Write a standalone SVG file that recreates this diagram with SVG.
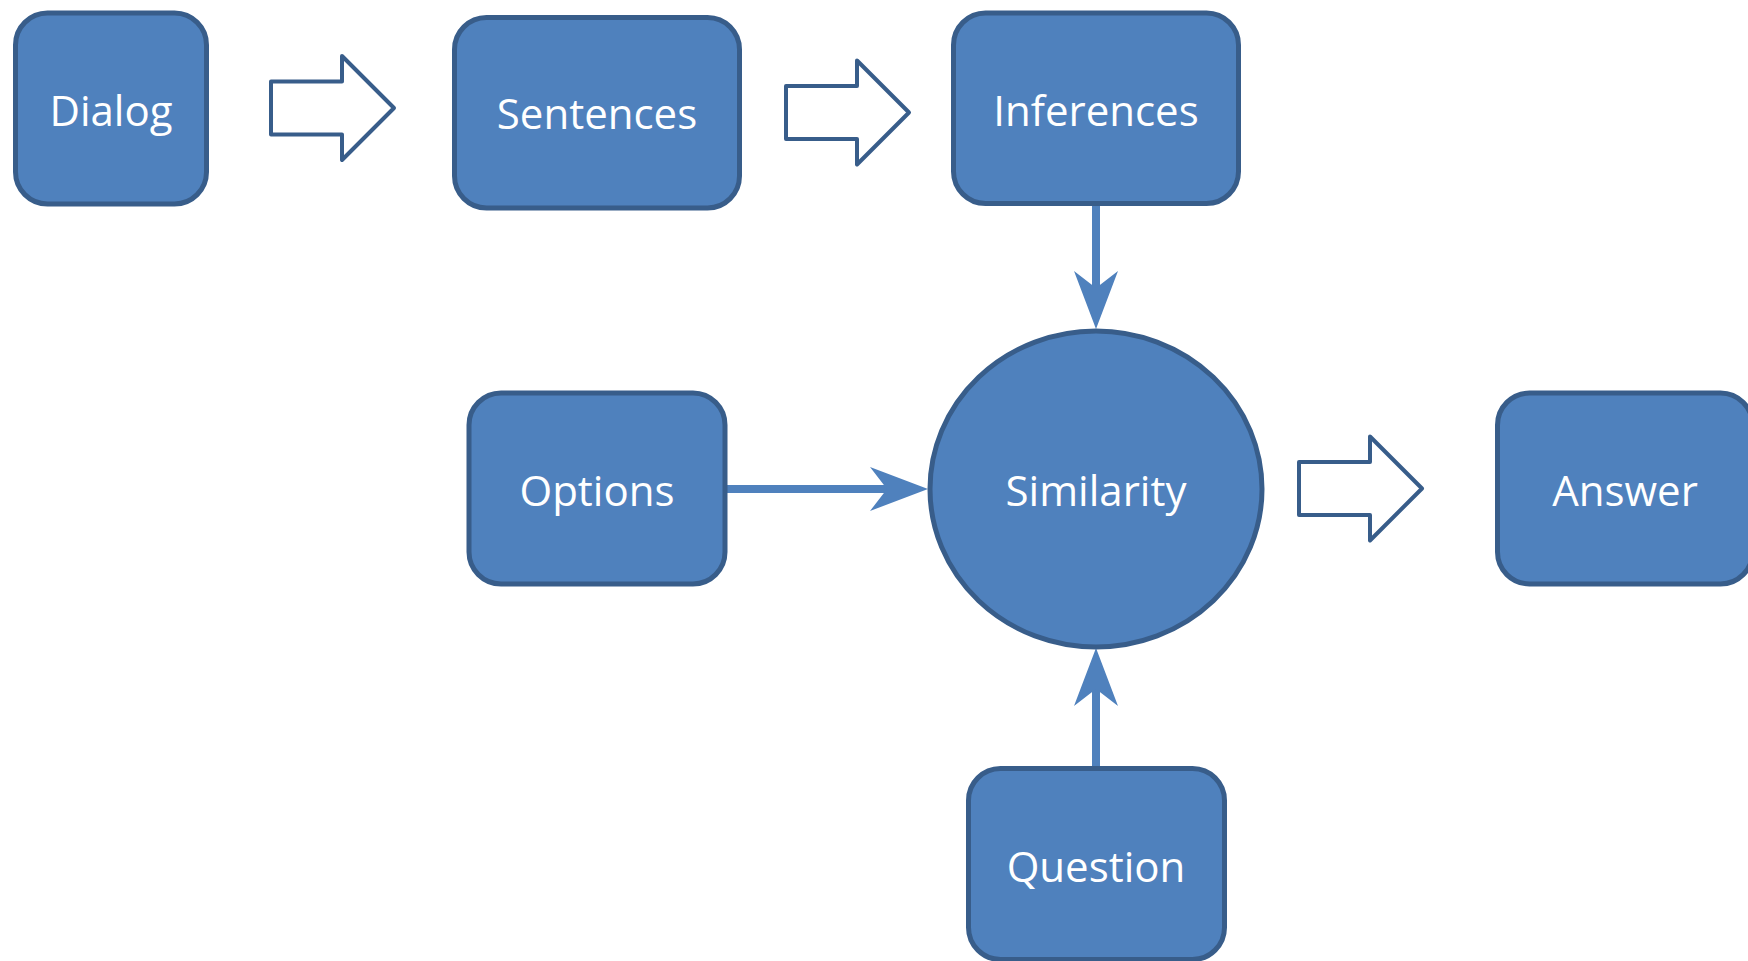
<svg xmlns="http://www.w3.org/2000/svg" width="1748" height="961" viewBox="0 0 1748 961">
<style>
.box{fill:#4f81bd;stroke:#385d8a;stroke-width:5}
.lbl{fill:#ffffff;font-family:"Open Sans","Liberation Sans",sans-serif;font-size:42px;text-anchor:middle}
.blk{fill:#ffffff;stroke:#385d8a;stroke-width:4;stroke-linejoin:round}
.con{stroke:#4f81bd;stroke-width:8;fill:none;marker-end:url(#head)}
</style>
<defs>
<marker id="head" markerUnits="userSpaceOnUse" viewBox="0 0 58 44" markerWidth="58" markerHeight="44" refX="38" refY="22" orient="auto">
<path d="M0,0 L58,22 L0,44 L17,22 Z" fill="#4f81bd"/>
</marker>
</defs>
<rect width="1748" height="961" fill="#ffffff"/>
<g id="connectors">
<line class="con" x1="1096" y1="205" x2="1096" y2="309"/>
<line class="con" x1="727" y1="489" x2="908" y2="489"/>
<line class="con" x1="1096" y1="766" x2="1096" y2="668"/>
<polygon class="blk" points="271,81.5 342,81.5 342,56 394,108 342,160 342,134.5 271,134.5"/>
<polygon class="blk" points="786,86 857,86 857,60.5 909,112.5 857,164.5 857,139 786,139"/>
<polygon class="blk" points="1299,462 1370,462 1370,436.5 1422,488.5 1370,540.5 1370,515 1299,515"/>
</g>
<g id="dialog"><rect class="box" x="15.5" y="13" width="191" height="191" rx="32"/><text class="lbl" x="111" y="126">Dialog</text></g>
<g id="sentences"><rect class="box" x="454.5" y="17.5" width="285" height="190.5" rx="32"/><text class="lbl" x="597" y="129">Sentences</text></g>
<g id="inferences"><rect class="box" x="953.5" y="13" width="285" height="190.5" rx="32"/><text class="lbl" x="1096" y="126">Inferences</text></g>
<g id="options"><rect class="box" x="469" y="393" width="256" height="191" rx="32"/><text class="lbl" x="597" y="506">Options</text></g>
<g id="similarity"><ellipse class="box" cx="1096" cy="489" rx="166" ry="158"/><text class="lbl" x="1096" y="506">Similarity</text></g>
<g id="answer"><rect class="box" x="1497.5" y="393" width="255" height="191" rx="32"/><text class="lbl" x="1625" y="506">Answer</text></g>
<g id="question"><rect class="box" x="968.5" y="768.5" width="256" height="191" rx="32"/><text class="lbl" x="1096" y="882">Question</text></g>
</svg>
